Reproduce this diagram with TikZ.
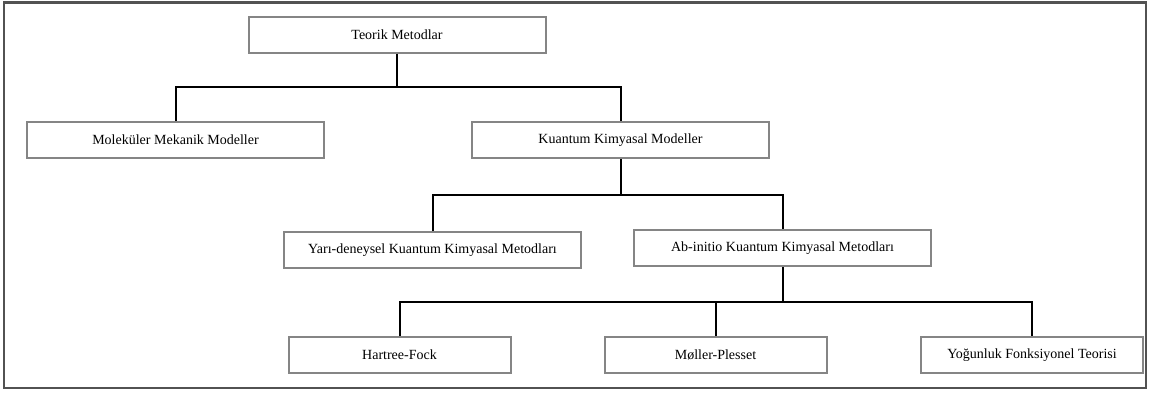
\documentclass[tikz,border=0pt]{standalone}
\usepackage{fontspec}
\setmainfont{Liberation Serif}
\begin{document}
\begin{tikzpicture}[x=1pt,y=-1pt,
  box/.style={draw=black!48, line width=2pt, fill=white, inner sep=0pt,
    minimum height=36pt, font=\fontsize{14}{16}\selectfont},
  wide/.style={box, minimum width=297pt},
  narrow/.style={box, minimum width=222pt},
  link/.style={draw=black, line width=2pt}]
\useasboundingbox (0,0) rectangle (1149,394);
% outer frame
\draw[black!68, line width=2.5pt] (4,2.5) rectangle (1146,388);

% nodes
\node[wide]   (teo) at (397,34.5)   {Teorik Metodlar};
\node[wide]   (mol) at (175.5,140)  {Moleküler Mekanik Modeller};
\node[wide]   (kua) at (620.5,140)  {Kuantum Kimyasal Modeller};
\node[wide]   (yar) at (432.5,250)  {Yarı-deneysel Kuantum Kimyasal Metodları};
\node[wide]   (abi) at (782.5,248)  {Ab-initio Kuantum Kimyasal Metodları};
\node[narrow] (har) at (399.5,355)  {Hartree-Fock};
\node[narrow] (mol2) at (715.5,355) {Møller-Plesset};
\node[narrow] (yog) at (1032,355)   {Yoğunluk Fonksiyonel Teorisi};

% bus levels
\coordinate (b1) at (0,87);
\coordinate (b2) at (0,195);
\coordinate (b3) at (0,302);

% connectors
\draw[link] (teo.south) -- (teo.south |- b1);
\draw[link] (mol.north) |- (teo.south |- b1) -| (kua.north);
\draw[link] (kua.south) -- (kua.south |- b2);
\draw[link] (yar.north) |- (kua.south |- b2) -| (abi.north);
\draw[link] (abi.south) -- (abi.south |- b3);
\draw[link] (har.north) |- (abi.south |- b3) -| (yog.north);
\draw[link] (mol2.north) -- (mol2.north |- b3);
\end{tikzpicture}
\end{document}
